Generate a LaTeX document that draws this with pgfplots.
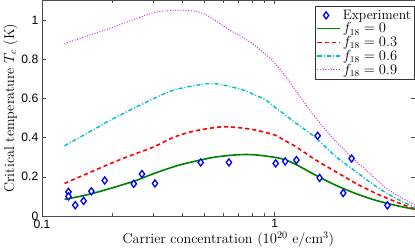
\documentclass[border=0pt]{standalone}
\usepackage{fontspec}
\usepackage{pgfplots}
\pgfplotsset{compat=1.18}
\newfontfamily\ticksfont{Liberation Sans}
\definecolor{mgreen}{rgb}{0,0.5,0}
\definecolor{mcyan}{rgb}{0,0.75,0.75}
\definecolor{mmag}{rgb}{0.8,0.2,0.85}
\pgfplotsset{longleg/.style={legend image code/.code={\draw[##1] (0cm,0cm) -- (0.78cm,0cm);}}}
\begin{document}
\begin{tikzpicture}
\begin{axis}[
  scale only axis, width=368pt, height=213pt,
  xmode=log, xmin=0.1, xmax=4, ymin=0, ymax=1.1,
  ytick={0,0.2,0.4,0.6,0.8,1}, yticklabels={0,0.2,0.4,0.6,0.8,1},
  xtick={0.1,1}, xticklabels={0.1,1},
  tick align=inside,
  major tick length=4pt, minor tick length=2.5pt,
  every tick/.style={black!70},
  axis line style={black!70},
  /pgf/number format/assume math mode=true,
  ticklabel style={font=\ticksfont\fontsize{12}{14}\selectfont},
  label style={font=\fontsize{14}{16}\selectfont},
  xlabel={Carrier concentration ($10^{20}$ e/cm$^3$)},
  ylabel={Critical temperature $T_c$ (K)},
  xlabel style={yshift=3pt},
  ylabel style={yshift=-3pt},
  legend style={at={(1,0.972)}, anchor=north east, draw=black!80, font=\fontsize{13.5}{15}\selectfont, inner sep=1.5pt, row sep=-2pt, legend cell align=left},
]
\addplot[only marks, mark=diamond*, mark size=3.5pt, mark options={draw=blue, fill=white, line width=1.3pt}] coordinates {
(0.13,0.123) (0.13,0.100) (0.139,0.055) (0.151,0.077) (0.163,0.126) (0.186,0.181) (0.248,0.164) (0.269,0.214) (0.306,0.166) (0.481,0.273) (0.636,0.273) (1.01,0.268) (1.11,0.278) (1.24,0.285) (1.53,0.409) (1.56,0.194) (1.97,0.117) (2.14,0.293) (3.05,0.054)
};
\addlegendentry{Experiment}
\addplot[color=mgreen, line width=1.6pt, smooth, longleg] coordinates {
(0.125,0.085) (0.164,0.114) (0.245,0.175) (0.3,0.215) (0.366,0.250) (0.418,0.269) (0.547,0.299) (0.691,0.312) (0.818,0.312) (1.0,0.299) (1.106,0.287) (1.223,0.265) (1.495,0.209) (1.828,0.157) (2.235,0.114) (2.734,0.079) (3.342,0.053) (4,0.034)
};
\addlegendentry{$f_{18}=0$}
\addplot[color=red, line width=1.6pt, dash pattern=on 4pt off 3pt, smooth, longleg] coordinates {
(0.125,0.166) (0.214,0.285) (0.299,0.350) (0.366,0.400) (0.447,0.432) (0.585,0.454) (0.691,0.451) (0.818,0.439) (1.0,0.413) (1.106,0.384) (1.223,0.356) (1.495,0.287) (1.828,0.226) (2.235,0.166) (2.734,0.114) (3.342,0.071) (4,0.036)
};
\addlegendentry{$f_{18}=0.3$}
\addplot[color=mcyan, line width=1.4pt, dash pattern=on 4pt off 2pt on 1pt off 2pt, smooth, longleg] coordinates {
(0.125,0.358) (0.175,0.454) (0.194,0.485) (0.2705,0.571) (0.366,0.641) (0.4945,0.672) (0.547,0.675) (0.605,0.667) (0.74,0.641) (0.818,0.618) (0.904,0.595) (1.0,0.556) (1.223,0.477) (1.495,0.40) (1.828,0.304) (2.235,0.226) (2.734,0.149) (3.342,0.088) (4,0.045)
};
\addlegendentry{$f_{18}=0.6$}
\addplot[color=mmag, line width=1pt, dash pattern=on 1pt off 1.6pt, smooth, longleg] coordinates {
(0.125,0.879) (0.194,0.955) (0.299,1.035) (0.366,1.047) (0.42,1.048) (0.4995,1.03) (0.63,0.953) (0.794,0.882) (1.0,0.78) (1.223,0.645) (1.495,0.503) (1.828,0.382) (2.163,0.295) (2.555,0.218) (3.023,0.14) (3.575,0.088) (4,0.057)
};
\addlegendentry{$f_{18}=0.9$}
\end{axis}
\end{tikzpicture}
\end{document}
